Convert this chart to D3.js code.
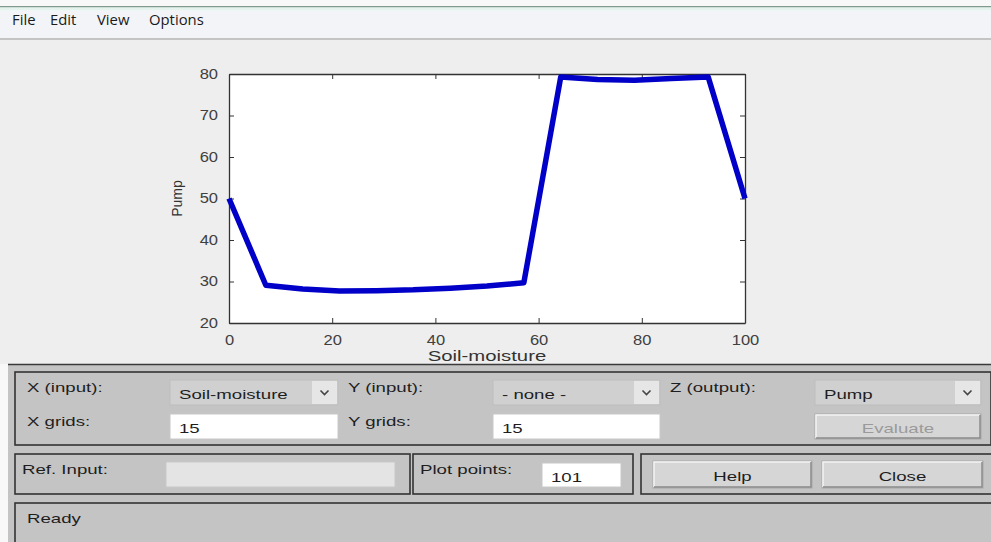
<!DOCTYPE html>
<html><head><meta charset="utf-8">
<script src="https://cdn.jsdelivr.net/npm/d3@7"></script>
<style>
html,body{margin:0;padding:0;background:#f8f8f8;overflow:hidden;}
svg{display:block;}
</style></head>
<body>
<svg id="c" width="991" height="542"></svg>
<script>
// Data
const soilMoisture = [0, 7.14, 14.29, 21.43, 28.57, 35.71, 42.86, 50, 57.14, 64.29, 71.43, 78.57, 85.71, 92.86, 100];
const pumpValues   = [50, 29.1, 28.2, 27.7, 27.8, 28.0, 28.4, 28.9, 29.7, 79.3, 78.7, 78.5, 78.9, 79.3, 50];
const xTicks = [0, 20, 40, 60, 80, 100];
const yTicks = [20, 30, 40, 50, 60, 70, 80];
const menuItems = ["File", "Edit", "View", "Options"];

const svg = d3.select("#c");
const FONT = "'Liberation Sans', Arial, sans-serif";

// horizontally stretch text (screenshot is widened)
function stretch(sel, k){
  sel.each(function(){
    const w = this.getComputedTextLength();
    if (w > 0) d3.select(this).attr("textLength", w*k).attr("lengthAdjust","spacingAndGlyphs");
  });
  return sel;
}

// Window background
svg.append("rect").attr("x",0).attr("y",0).attr("width",991).attr("height",542).attr("fill","#f8f8f8");
svg.append("rect").attr("x",0).attr("y",6).attr("width",991).attr("height",1.5).attr("fill","#7f9a8c");
svg.append("rect").attr("x",0).attr("y",7.5).attr("width",991).attr("height",3).attr("fill","#e4f4ec");
svg.append("rect").attr("x",0).attr("y",10.5).attr("width",991).attr("height",27.5).attr("fill","#f2f4f8");
svg.append("rect").attr("x",0).attr("y",38).attr("width",991).attr("height",2).attr("fill","#c4c4c4");
svg.append("rect").attr("x",0).attr("y",40).attr("width",991).attr("height",324).attr("fill","#eeeeee");

const menuX = [12, 50, 97, 149];
stretch(svg.selectAll("text.menu").data(menuItems).join("text")
  .attr("x",(d,i)=>menuX[i]).attr("y",25)
  .attr("font-family","'Open Sans','Noto Sans',sans-serif").attr("font-size",14).attr("fill","#1a1a1a")
  .text(d=>d), 1.06);

// Plot
const x = d3.scaleLinear().domain([0,100]).range([229,745]);
const y = d3.scaleLinear().domain([20,80]).range([323,74]);
svg.append("rect").attr("x",x(0)).attr("y",y(80)).attr("width",x(100)-x(0)).attr("height",y(20)-y(80)).attr("fill","#ffffff");

const gx = svg.append("g").attr("transform",`translate(0,${y(20)})`)
  .call(d3.axisBottom(x).tickValues(xTicks).tickSizeInner(-5).tickSizeOuter(0).tickPadding(10));
const gxt = svg.append("g").attr("transform",`translate(0,${y(80)})`)
  .call(d3.axisTop(x).tickValues(xTicks).tickSizeInner(-5).tickSizeOuter(0).tickFormat(""));
const gy = svg.append("g").attr("transform",`translate(${x(0)},0)`)
  .call(d3.axisLeft(y).tickValues(yTicks).tickSizeInner(-5).tickSizeOuter(0).tickPadding(10));
const gyr = svg.append("g").attr("transform",`translate(${x(100)},0)`)
  .call(d3.axisRight(y).tickValues(yTicks).tickSizeInner(-5).tickSizeOuter(0).tickFormat(""));
[gx,gxt,gy,gyr].forEach(g=>{
  g.select(".domain").attr("stroke","#333").attr("stroke-width",1.3);
  g.selectAll(".tick line").attr("stroke","#333").attr("stroke-width",1);
  g.selectAll(".tick text").attr("font-family",FONT).attr("font-size",14).attr("fill","#404040");
});
gx.selectAll(".tick text").attr("dy","0.85em");
gy.selectAll(".tick text").attr("dx","-1");
stretch(gx.selectAll(".tick text"), 1.18);
stretch(gy.selectAll(".tick text"), 1.18);

const line = d3.line().x((d,i)=>x(soilMoisture[i])).y(d=>y(d));
svg.append("path").datum(pumpValues).attr("d",line)
  .attr("fill","none").attr("stroke","#0000c8").attr("stroke-width",5.5).attr("stroke-linejoin","round");

svg.append("text").attr("transform",`translate(182,${y(50)}) rotate(-90)`)
  .attr("text-anchor","middle").attr("font-family",FONT).attr("font-size",14).attr("fill","#333").text("Pump");
stretch(svg.append("text").attr("x",(x(0)+x(100))/2).attr("y",361)
  .attr("text-anchor","middle").attr("font-family",FONT).attr("font-size",14).attr("fill","#333").text("Soil-moisture"), 1.45);

// Bottom panel
svg.append("rect").attr("x",8).attr("y",364).attr("width",983).attr("height",178).attr("fill","#c4c4c4");
svg.append("line").attr("x1",8).attr("x2",991).attr("y1",364.5).attr("y2",364.5).attr("stroke","#3a3a3a").attr("stroke-width",1.5);

function frame(x0,y0,w,h){
  svg.append("rect").attr("x",x0).attr("y",y0).attr("width",w).attr("height",h)
    .attr("fill","none").attr("stroke","#333").attr("stroke-width",1.6);
}
frame(15,372,976,73);
frame(15,454,395,40);
frame(413,454,220,40);
frame(641,454,352,40);
frame(15,503,980,45);

const K = 1.38;
function label(t,x0,y0,col){
  return stretch(svg.append("text").attr("x",x0).attr("y",y0).attr("font-family",FONT).attr("font-size",13.5)
    .attr("fill",col||"#1e1e1e").text(t), K);
}
function popup(x0,y0,w,h,t){
  svg.append("rect").attr("x",x0).attr("y",y0).attr("width",w).attr("height",h).attr("fill","#d0d0d0").attr("stroke","#bdbdbd");
  svg.append("rect").attr("x",x0+w-26).attr("y",y0+1).attr("width",25).attr("height",h-2).attr("fill","#e6e6e6");
  const cx = x0+w-13.5, cy=y0+h/2;
  svg.append("path").attr("d",`M${cx-4},${cy-2} L${cx},${cy+2} L${cx+4},${cy-2}`).attr("fill","none").attr("stroke","#444").attr("stroke-width",1.6);
  label(t,x0+9,y0+19);
}
function field(x0,y0,w,h,t,fill){
  svg.append("rect").attr("x",x0).attr("y",y0).attr("width",w).attr("height",h).attr("fill",fill||"#ffffff").attr("stroke","#c8c8c8");
  if(t) label(t,x0+9,y0+19);
}
function button(x0,y0,w,h,t,col){
  svg.append("rect").attr("x",x0).attr("y",y0).attr("width",w).attr("height",h).attr("fill","#d6d6d6").attr("stroke","#a8a8a8");
  svg.append("path").attr("d",`M${x0+1},${y0+h-1} V${y0+1} H${x0+w-1}`).attr("fill","none").attr("stroke","#f4f4f4").attr("stroke-width",1.5);
  svg.append("path").attr("d",`M${x0+1},${y0+h-1} H${x0+w-1} V${y0+1}`).attr("fill","none").attr("stroke","#8a8a8a").attr("stroke-width",1.5);
  stretch(svg.append("text").attr("x",x0+w/2).attr("y",y0+h/2+6).attr("text-anchor","middle").attr("font-family",FONT).attr("font-size",13.5)
    .attr("fill",col||"#1e1e1e").text(t), K);
}

label("X (input):",27,392);
popup(170,380,168,25,"Soil-moisture");
label("Y (input):",348,392);
popup(493,380,167,25,"- none -");
label("Z (output):",670,392);
popup(815,380,166,25,"Pump");

label("X grids:",27,426);
field(170,414,168,25,"15");
label("Y grids:",348,426);
field(493,414,167,25,"15");
button(815,414,166,25,"Evaluate","#9a9a9a");

label("Ref. Input:",22,474);
field(166,462,229,25,null,"#e4e4e4");
label("Plot points:",420,474);
field(542,463,79,24,"101");
button(653,461,159,27,"Help");
button(822,461,161,27,"Close");

label("Ready",27,523);
</script>
</body></html>
